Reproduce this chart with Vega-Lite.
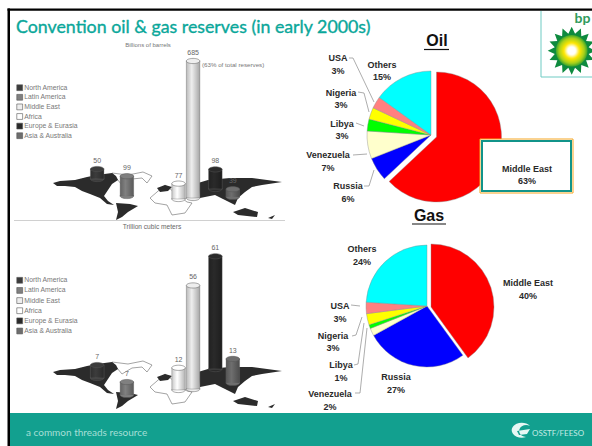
{
"$schema":"https://vega.github.io/schema/vega-lite/v6.json",
"width":592,"height":446,"padding":0,
"autosize":{"type":"none"},
"background":"#ffffff",
"config":{"view":{"stroke":null},"axis":{"disable":true},"legend":{"disable":true},
"text":{"font":"Liberation Sans","fontWeight":"bold","fontSize":9,"lineHeight":12.5,"lineBreak":"\n","color":"#2a2a2a","align":"center","baseline":"middle"}},
"resolve":{"scale":{"x":"independent","y":"independent","color":"independent"}},
"layer":[
{"data":{"values":[{}]},
"layer":[
{"mark":{"type":"rect","color":"#000000"},"encoding":{"x":{"datum":7.5,"scale":{"domain":[0,592],"nice":false}},"x2":{"datum":10},"y":{"datum":8.5,"scale":{"domain":[446,0],"nice":false}},"y2":{"datum":446}}},
{"mark":{"type":"rect","color":"#000000"},"encoding":{"x":{"datum":7.5},"x2":{"datum":592},"y":{"datum":8.5},"y2":{"datum":10.8}}},
{"mark":{"type":"rect","color":"#12a08f"},"encoding":{"x":{"datum":10},"x2":{"datum":592},"y":{"datum":413},"y2":{"datum":446}}},
{"mark":{"type":"text","text":"Convention oil & gas reserves (in early 2000s)","font":"Lato","fontWeight":"normal","fontSize":17.8,"color":"#0aa79a","stroke":"#0aa79a","strokeWidth":0.35,"align":"left","baseline":"alphabetic"},"encoding":{"x":{"datum":16},"y":{"datum":33}}},
{"mark":{"type":"text","text":"a common threads resource","font":"Lato","fontWeight":"normal","fontSize":10,"color":"#a5dfd6","align":"left"},"encoding":{"x":{"datum":26},"y":{"datum":433}}},
{"mark":{"type":"text","text":"OSSTF/FEESO","font":"Lato","fontWeight":"normal","fontSize":8,"color":"#c4ebe5","align":"left"},"encoding":{"x":{"datum":532},"y":{"datum":434}}},
{"mark":{"type":"point","shape":"M8,-5A10,7.5 0 1 0 4,6A7,6 0 1 1 8,-5ZM-5,0L8,-2L5,3L-3,4Z","size":4,"filled":true,"fill":"#e6f7f4","stroke":null,"opacity":1},"encoding":{"x":{"datum":522},"y":{"datum":431}}},
{"mark":{"type":"rule","stroke":"#6fcbc3","strokeWidth":1},"encoding":{"x":{"datum":541},"y":{"datum":11},"y2":{"datum":77}}},
{"mark":{"type":"rule","stroke":"#6fcbc3","strokeWidth":1},"encoding":{"x":{"datum":541},"x2":{"datum":592},"y":{"datum":77}}},
{"mark":{"type":"text","text":"bp","font":"Lato","fontWeight":"bold","fontSize":14,"color":"#2f9a5c","align":"left","baseline":"alphabetic"},"encoding":{"x":{"datum":574.5},"y":{"datum":23}}},
{"mark":{"type":"point","shape":"M1,0L0.706,0.14L0.924,0.383L0.599,0.4L0.707,0.707L0.4,0.599L0.383,0.924L0.14,0.706L0,1L-0.14,0.706L-0.383,0.924L-0.4,0.599L-0.707,0.707L-0.599,0.4L-0.924,0.383L-0.706,0.14L-1,0L-0.706,-0.14L-0.924,-0.383L-0.599,-0.4L-0.707,-0.707L-0.4,-0.599L-0.383,-0.924L-0.14,-0.706L0,-1L0.14,-0.706L0.383,-0.924L0.4,-0.599L0.707,-0.707L0.599,-0.4L0.924,-0.383L0.706,-0.14Z","size":2304,"filled":true,"fill":"#0e8a3e","stroke":null,"opacity":1},"encoding":{"x":{"datum":571.7},"y":{"datum":50.7}}},
{"mark":{"type":"point","shape":"circle","size":1000,"filled":true,"stroke":null,"opacity":1,"fill":{"gradient":"radial","stops":[{"offset":0,"color":"#ffffff"},{"offset":0.25,"color":"#ffffff"},{"offset":0.5,"color":"#ffe600"},{"offset":0.8,"color":"#a5cf1c"},{"offset":1,"color":"#3aa52c"}]}},"encoding":{"x":{"datum":571.7},"y":{"datum":50.7}}},
{"mark":{"type":"rule","stroke":"#bbbbbb","strokeWidth":0.7},"encoding":{"x":{"datum":14},"x2":{"datum":285},"y":{"datum":220.5}}},
{"mark":{"type":"text","text":"Billions of barrels","fontWeight":"normal","fontSize":6,"color":"#777777"},"encoding":{"x":{"datum":148},"y":{"datum":44.5}}},
{"mark":{"type":"text","text":"(63% of total reserves)","fontWeight":"normal","fontSize":6.2,"color":"#777777","align":"left"},"encoding":{"x":{"datum":202},"y":{"datum":64.5}}},
{"mark":{"type":"text","text":"Trillion cubic meters","fontWeight":"normal","fontSize":6.6,"color":"#666666"},"encoding":{"x":{"datum":152},"y":{"datum":227}}},
{"mark":{"type":"point","shape":"M112,173L128,175L143,172L152,176L147,183L142,178L132,179L122,185ZM150,198L157,192L165,185L187,202L192,203L185,213L172,215L167,205L155,203Z","size":4,"filled":true,"fill":"#ffffff","stroke":"#666666","strokeWidth":0.6,"opacity":1},"encoding":{"x":{"datum":0},"y":{"datum":0}}},
{"mark":{"type":"point","shape":"M53,183L60,181L75,180L87,177L97,175L112,173L116,176L118,180L112,184L108,190L104,196L108,201L114,205L107,204L100,198L90,194L82,191L75,187L65,186L57,186ZM116,203L130,204L138,206L128,212L122,217L116,220L118,212ZM157,188L165,185L172,187L168,191L160,192ZM198,183L208,180L230,178L252,178L282,182L262,185L252,187L245,192L238,198L235,205L225,200L215,195L200,198ZM233,212L245,208L258,212L257,217L238,215ZM268,218L275,215L272,219Z","size":4,"filled":true,"fill":"#2b2b2b","stroke":null,"opacity":1},"encoding":{"x":{"datum":0},"y":{"datum":0}}},
{"mark":{"type":"point","shape":"M112,173L128,175L143,172L152,176L147,183L142,178L132,179L122,185ZM150,198L157,192L165,185L187,202L192,203L185,213L172,215L167,205L155,203Z","size":4,"filled":true,"fill":"#ffffff","stroke":"#666666","strokeWidth":0.6,"opacity":1},"encoding":{"x":{"datum":0},"y":{"datum":189}}},
{"mark":{"type":"point","shape":"M53,183L60,181L75,180L87,177L97,175L112,173L116,176L118,180L112,184L108,190L104,196L108,201L114,205L107,204L100,198L90,194L82,191L75,187L65,186L57,186ZM116,203L130,204L138,206L128,212L122,217L116,220L118,212ZM157,188L165,185L172,187L168,191L160,192ZM198,183L208,180L230,178L252,178L282,182L262,185L252,187L245,192L238,198L235,205L225,200L215,195L200,198ZM233,212L245,208L258,212L257,217L238,215ZM268,218L275,215L272,219Z","size":4,"filled":true,"fill":"#2b2b2b","stroke":null,"opacity":1},"encoding":{"x":{"datum":0},"y":{"datum":189}}}
]},
{"data":{"name":"regions","values":[{"region":"North America"},{"region":"Latin America"},{"region":"Middle East"},{"region":"Africa"},{"region":"Europe & Eurasia"},{"region":"Asia & Australia"}]},
"layer":[
{"mark":{"type":"point","shape":"square","size":34,"filled":true,"stroke":"#555555","strokeWidth":0.6,"opacity":1},"encoding":{"x":{"datum":19.7,"scale":{"domain":[0,592],"nice":false}},"y":{"field":"region","type":"nominal","sort":null,"scale":{"type":"point","padding":0,"domain":["North America","Latin America","Middle East","Africa","Europe & Eurasia","Asia & Australia"],"range":[87.7,135.7]}},"color":{"field":"region","type":"nominal","scale":{"domain":["North America","Latin America","Middle East","Africa","Europe & Eurasia","Asia & Australia"],"range":["#3c3c3c","#808080","#eeeeee","#ffffff","#2a2a2a","#6e6e6e"]}}}},
{"mark":{"type":"text","fontWeight":"normal","fontSize":6.8,"color":"#777777","align":"left"},"encoding":{"x":{"datum":24.3},"y":{"field":"region","type":"nominal","sort":null},"text":{"field":"region"}}}
]},
{"data":{"name":"regions2","values":[{"region":"North America"},{"region":"Latin America"},{"region":"Middle East"},{"region":"Africa"},{"region":"Europe & Eurasia"},{"region":"Asia & Australia"}]},
"layer":[
{"mark":{"type":"point","shape":"square","size":34,"filled":true,"stroke":"#555555","strokeWidth":0.6,"opacity":1},"encoding":{"x":{"datum":19.7,"scale":{"domain":[0,592],"nice":false}},"y":{"field":"region","type":"nominal","sort":null,"scale":{"type":"point","padding":0,"domain":["North America","Latin America","Middle East","Africa","Europe & Eurasia","Asia & Australia"],"range":[280.3,331]}},"color":{"field":"region","type":"nominal","scale":{"domain":["North America","Latin America","Middle East","Africa","Europe & Eurasia","Asia & Australia"],"range":["#3c3c3c","#808080","#eeeeee","#ffffff","#2a2a2a","#6e6e6e"]}}}},
{"mark":{"type":"text","fontWeight":"normal","fontSize":6.8,"color":"#777777","align":"left"},"encoding":{"x":{"datum":24.3},"y":{"field":"region","type":"nominal","sort":null},"text":{"field":"region"}}}
]},
{"data":{"name":"oilReserves","values":[
{"region":"North America","lon":-108,"footing":95,"reserves":50},
{"region":"Latin America","lon":-62,"footing":10,"reserves":99},
{"region":"Africa","lon":18,"footing":-5,"reserves":77},
{"region":"Middle East","lon":40.5,"footing":0,"reserves":685},
{"region":"Europe & Eurasia","lon":75,"footing":45,"reserves":98},
{"region":"Asia & Australia","lon":102,"footing":5,"reserves":39}]},
"transform":[{"calculate":"datum.footing+datum.reserves","as":"top"}],
"layer":[
{"mark":{"type":"point","shape":"M-6.75,0A6.75,2.6 0 1 1 6.75,0A6.75,2.6 0 1 1 -6.75,0Z","size":4,"filled":true,"stroke":"#555555","strokeWidth":0.5,"opacity":1},"encoding":{"x":{"field":"lon","type":"quantitative","scale":{"domain":[-250.7,650.4],"nice":false,"zero":false}},"y":{"field":"footing","type":"quantitative","scale":{"domain":[-1240,990],"nice":false,"zero":false}},"color":{"field":"region","type":"nominal","scale":{"domain":["North America","Latin America","Middle East","Africa","Europe & Eurasia","Asia & Australia"],"range":["#3c3c3c","#808080","#eeeeee","#ffffff","#2a2a2a","#6e6e6e"]}}}},
{"mark":{"type":"bar","size":13.5,"stroke":"#777777","strokeWidth":0.4},"encoding":{"x":{"field":"lon","type":"quantitative"},"y":{"field":"top","type":"quantitative"},"y2":{"field":"footing"},"color":{"field":"region","type":"nominal"}}},
{"mark":{"type":"bar","size":13.5,"color":{"gradient":"linear","x1":0,"x2":1,"y1":0,"y2":0,"stops":[{"offset":0,"color":"rgba(0,0,0,0.22)"},{"offset":0.4,"color":"rgba(0,0,0,0)"},{"offset":1,"color":"rgba(0,0,0,0.3)"}]}},"encoding":{"x":{"field":"lon","type":"quantitative"},"y":{"field":"top","type":"quantitative"},"y2":{"field":"footing"}}},
{"mark":{"type":"point","shape":"M-6.75,0A6.75,2.6 0 1 1 6.75,0A6.75,2.6 0 1 1 -6.75,0Z","size":4,"filled":true,"stroke":"#555555","strokeWidth":0.5,"opacity":1},"encoding":{"x":{"field":"lon","type":"quantitative"},"y":{"field":"top","type":"quantitative"},"color":{"field":"region","type":"nominal"}}},
{"mark":{"type":"text","fontWeight":"normal","fontSize":7,"color":"#666666","dy":-8},"encoding":{"x":{"field":"lon","type":"quantitative"},"y":{"field":"top","type":"quantitative"},"text":{"field":"reserves","type":"quantitative"}}}
]},
{"data":{"name":"gasReserves","values":[
{"region":"North America","lon":-108,"footing":3.8,"reserves":7},
{"region":"Latin America","lon":-62,"footing":-5.4,"reserves":7},
{"region":"Africa","lon":18,"footing":-2.7,"reserves":12},
{"region":"Middle East","lon":40.5,"footing":-2.2,"reserves":56},
{"region":"Europe & Eurasia","lon":75,"footing":8.6,"reserves":61},
{"region":"Asia & Australia","lon":102,"footing":1.1,"reserves":13}]},
"transform":[{"calculate":"datum.footing+datum.reserves","as":"top"}],
"layer":[
{"mark":{"type":"point","shape":"M-6.75,0A6.75,2.6 0 1 1 6.75,0A6.75,2.6 0 1 1 -6.75,0Z","size":4,"filled":true,"stroke":"#555555","strokeWidth":0.5,"opacity":1},"encoding":{"x":{"field":"lon","type":"quantitative","scale":{"domain":[-250.7,650.4],"nice":false,"zero":false}},"y":{"field":"footing","type":"quantitative","scale":{"domain":[-32.97,208.1],"nice":false,"zero":false}},"color":{"field":"region","type":"nominal","scale":{"domain":["North America","Latin America","Middle East","Africa","Europe & Eurasia","Asia & Australia"],"range":["#3c3c3c","#808080","#eeeeee","#ffffff","#2a2a2a","#6e6e6e"]}}}},
{"mark":{"type":"bar","size":13.5,"stroke":"#777777","strokeWidth":0.4},"encoding":{"x":{"field":"lon","type":"quantitative"},"y":{"field":"top","type":"quantitative"},"y2":{"field":"footing"},"color":{"field":"region","type":"nominal"}}},
{"mark":{"type":"bar","size":13.5,"color":{"gradient":"linear","x1":0,"x2":1,"y1":0,"y2":0,"stops":[{"offset":0,"color":"rgba(0,0,0,0.22)"},{"offset":0.4,"color":"rgba(0,0,0,0)"},{"offset":1,"color":"rgba(0,0,0,0.3)"}]}},"encoding":{"x":{"field":"lon","type":"quantitative"},"y":{"field":"top","type":"quantitative"},"y2":{"field":"footing"}}},
{"mark":{"type":"point","shape":"M-6.75,0A6.75,2.6 0 1 1 6.75,0A6.75,2.6 0 1 1 -6.75,0Z","size":4,"filled":true,"stroke":"#555555","strokeWidth":0.5,"opacity":1},"encoding":{"x":{"field":"lon","type":"quantitative"},"y":{"field":"top","type":"quantitative"},"color":{"field":"region","type":"nominal"}}},
{"mark":{"type":"text","fontWeight":"normal","fontSize":7,"color":"#666666","dy":-8},"encoding":{"x":{"field":"lon","type":"quantitative"},"y":{"field":"top","type":"quantitative"},"text":{"field":"reserves","type":"quantitative"}}}
]},
{"data":{"name":"shares","values":[
{"pie":"Oil","rank":1,"slice":"Middle East","share":63},
{"pie":"Oil","rank":2,"slice":"Russia","share":6},
{"pie":"Oil","rank":3,"slice":"Venezuela","share":7},
{"pie":"Oil","rank":4,"slice":"Libya","share":3},
{"pie":"Oil","rank":5,"slice":"Nigeria","share":3},
{"pie":"Oil","rank":6,"slice":"USA","share":3},
{"pie":"Oil","rank":7,"slice":"Others","share":15},
{"pie":"Gas","rank":1,"slice":"Middle East","share":40},
{"pie":"Gas","rank":2,"slice":"Russia","share":27},
{"pie":"Gas","rank":3,"slice":"Venezuela","share":2},
{"pie":"Gas","rank":4,"slice":"Libya","share":1},
{"pie":"Gas","rank":5,"slice":"Nigeria","share":3},
{"pie":"Gas","rank":6,"slice":"USA","share":3},
{"pie":"Gas","rank":7,"slice":"Others","share":24}]},
"transform":[
{"stack":"share","groupby":["pie"],"sort":[{"field":"rank","order":"ascending"}],"as":["from","to"]},
{"calculate":"datum.slice+'\\n'+datum.share+'%'","as":"label"},
{"calculate":"datum.pie+'/'+datum.slice","as":"id"}],
"layer":[
{"transform":[{"filter":"datum.pie=='Oil'&&datum.slice!='Middle East'"}],"mark":{"type":"arc","outerRadius":64,"stroke":"#888888","strokeWidth":0.4},"encoding":{"x":{"datum":431,"scale":{"domain":[0,592],"nice":false}},"y":{"datum":135,"scale":{"domain":[446,0],"nice":false}},"theta":{"field":"from","type":"quantitative","scale":{"domain":[0,100]}},"theta2":{"field":"to"},"color":{"field":"slice","type":"nominal","scale":{"domain":["Middle East","Russia","Venezuela","Libya","Nigeria","USA","Others"],"range":["#ff0000","#0000ff","#ffffcc","#00ff00","#ffff00","#ff8080","#00ffff"]}}}},
{"transform":[{"filter":"datum.pie=='Oil'&&datum.slice=='Middle East'"}],"mark":{"type":"arc","outerRadius":65,"stroke":"#888888","strokeWidth":0.4},"encoding":{"x":{"datum":436.5},"y":{"datum":137},"theta":{"field":"from","type":"quantitative"},"theta2":{"field":"to"},"color":{"field":"slice","type":"nominal"}}},
{"transform":[{"filter":"datum.pie=='Gas'&&datum.slice!='Middle East'"}],"mark":{"type":"arc","outerRadius":61,"stroke":"#888888","strokeWidth":0.4},"encoding":{"x":{"datum":427},"y":{"datum":306},"theta":{"field":"from","type":"quantitative"},"theta2":{"field":"to"},"color":{"field":"slice","type":"nominal"}}},
{"transform":[{"filter":"datum.pie=='Gas'&&datum.slice=='Middle East'"}],"mark":{"type":"arc","outerRadius":63,"stroke":"#888888","strokeWidth":0.4},"encoding":{"x":{"datum":431},"y":{"datum":307},"theta":{"field":"from","type":"quantitative"},"theta2":{"field":"to"},"color":{"field":"slice","type":"nominal"}}},
{"transform":[{"filter":"datum.id=='Oil/Russia'"}],"mark":{"type":"point","shape":"M349,58L353,58L374,102M358,92L364,93L369,112M356,123L364,126M353,155L367,154M364,186L369,186L374,170M351,305L360,306M352,336L356,335L362,317M354,365L358,364L364,323M355,393L360,393L367,328","size":4,"filled":false,"stroke":"#8a8a8a","strokeWidth":0.7,"opacity":1},"encoding":{"x":{"datum":0},"y":{"datum":0}}},
{"transform":[{"filter":"datum.id=='Oil/Russia'"}],"mark":{"type":"rect","fill":"#ffffff","stroke":"#f5a623","strokeWidth":1},"encoding":{"x":{"datum":480},"x2":{"datum":573},"y":{"datum":139},"y2":{"datum":193}}},
{"transform":[{"filter":"datum.id=='Oil/Russia'"}],"mark":{"type":"rect","fill":"#ffffff","stroke":"#11948a","strokeWidth":2},"encoding":{"x":{"datum":482},"x2":{"datum":571},"y":{"datum":141},"y2":{"datum":191}}},
{"transform":[{"filter":"datum.id=='Oil/Russia'"}],"mark":{"type":"rule","stroke":"#111111","strokeWidth":1.2},"encoding":{"x":{"datum":424},"x2":{"datum":449},"y":{"datum":49.5}}},
{"transform":[{"filter":"datum.id=='Oil/Russia'"}],"mark":{"type":"rule","stroke":"#111111","strokeWidth":1.2},"encoding":{"x":{"datum":412},"x2":{"datum":446},"y":{"datum":224}}},
{"transform":[{"filter":"datum.id=='Oil/Russia'"}],"mark":{"type":"text","text":"Oil","fontSize":16,"color":"#111111","font":"Liberation Sans"},"encoding":{"x":{"datum":437},"y":{"datum":41}}},
{"transform":[{"filter":"datum.id=='Oil/Russia'"}],"mark":{"type":"text","text":"Gas","fontSize":16,"color":"#111111","font":"Liberation Sans"},"encoding":{"x":{"datum":429},"y":{"datum":216}}},
{"transform":[{"filter":"datum.id=='Oil/USA'"}],"mark":"text","encoding":{"x":{"datum":338},"y":{"datum":58},"text":{"field":"label"}}},
{"transform":[{"filter":"datum.id=='Oil/Others'"}],"mark":"text","encoding":{"x":{"datum":382},"y":{"datum":64.5},"text":{"field":"label"}}},
{"transform":[{"filter":"datum.id=='Oil/Nigeria'"}],"mark":"text","encoding":{"x":{"datum":341},"y":{"datum":92.5},"text":{"field":"label"}}},
{"transform":[{"filter":"datum.id=='Oil/Libya'"}],"mark":"text","encoding":{"x":{"datum":342},"y":{"datum":123.5},"text":{"field":"label"}}},
{"transform":[{"filter":"datum.id=='Oil/Venezuela'"}],"mark":"text","encoding":{"x":{"datum":328},"y":{"datum":155},"text":{"field":"label"}}},
{"transform":[{"filter":"datum.id=='Oil/Russia'"}],"mark":"text","encoding":{"x":{"datum":348},"y":{"datum":186},"text":{"field":"label"}}},
{"transform":[{"filter":"datum.id=='Oil/Middle East'"}],"mark":"text","encoding":{"x":{"datum":527},"y":{"datum":168.5},"text":{"field":"label"}}},
{"transform":[{"filter":"datum.id=='Gas/Others'"}],"mark":"text","encoding":{"x":{"datum":362},"y":{"datum":249},"text":{"field":"label"}}},
{"transform":[{"filter":"datum.id=='Gas/Middle East'"}],"mark":"text","encoding":{"x":{"datum":528},"y":{"datum":283},"text":{"field":"label"}}},
{"transform":[{"filter":"datum.id=='Gas/USA'"}],"mark":"text","encoding":{"x":{"datum":340},"y":{"datum":306},"text":{"field":"label"}}},
{"transform":[{"filter":"datum.id=='Gas/Nigeria'"}],"mark":"text","encoding":{"x":{"datum":333},"y":{"datum":335.5},"text":{"field":"label"}}},
{"transform":[{"filter":"datum.id=='Gas/Libya'"}],"mark":"text","encoding":{"x":{"datum":341},"y":{"datum":365},"text":{"field":"label"}}},
{"transform":[{"filter":"datum.id=='Gas/Venezuela'"}],"mark":"text","encoding":{"x":{"datum":330},"y":{"datum":394},"text":{"field":"label"}}},
{"transform":[{"filter":"datum.id=='Gas/Russia'"}],"mark":"text","encoding":{"x":{"datum":396},"y":{"datum":377},"text":{"field":"label"}}}
]}
]}
